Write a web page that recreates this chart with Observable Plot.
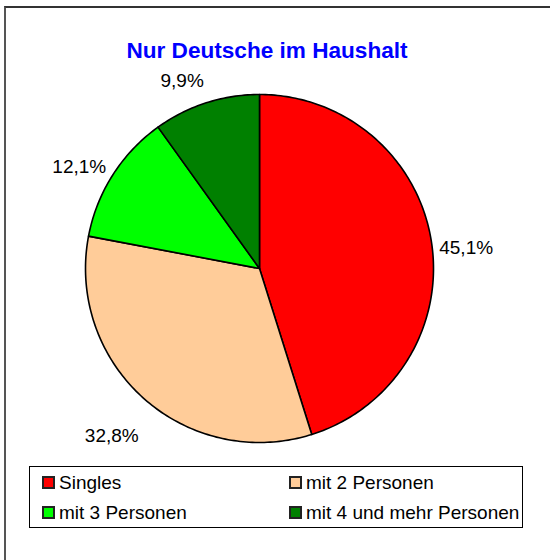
<!DOCTYPE html>
<html>
<head>
<meta charset="utf-8">
<script src="https://cdn.jsdelivr.net/npm/d3@7"></script>
<script src="https://cdn.jsdelivr.net/npm/@observablehq/plot@0.6"></script>
<style>
  body { margin: 0; background: #fff; font-family: "Liberation Sans", Arial, sans-serif; }
  #page { position: relative; width: 550px; height: 560px; overflow: hidden; background: #fff; }
  #frame { position: absolute; left: 4px; top: 6px; width: 620px; height: 620px;
           border-left: 2px solid #555; border-top: 2px solid #333; }
  #title { position: absolute; left: 0; top: 40px; width: 534px; text-align: center;
           font-weight: bold; font-size: 22.6px; line-height: 22px; color: #0000FF; }
  #chart { position: absolute; left: 0; top: 60px; }
  #legend { position: absolute; left: 29px; top: 466px; width: 492px; height: 60px;
            border: 1px solid #000; box-sizing: content-box; }
  .item { position: absolute; font-size: 19px; line-height: 19px; white-space: nowrap; color: #000; }
  .sw { position: absolute; width: 9px; height: 9px; border: 2px solid #222; }
  .lbl { position: absolute; }
</style>
</head>
<body>
<div id="page">
  <div id="frame"></div>
  <div id="title"></div>
  <div id="chart"></div>
  <div id="legend"></div>
</div>
<script>
const title = "Nur Deutsche im Haushalt";
const categories = ["Singles", "mit 2 Personen", "mit 3 Personen", "mit 4 und mehr Personen"];
const values = [45.1, 32.8, 12.1, 9.9];
const colors = ["#FF0000", "#FFCC99", "#00FF00", "#008000"];

document.getElementById("title").textContent = title;

const data = categories.map((c, i) => ({category: c, value: values[i]}));
const arcs = d3.pie().sort(null).value(d => d.value)(data);
const fmt = v => d3.format(".1f")(v).replace(".", ",") + "%";

const slices = arcs.map(a => {
  const pts = [[0, 0]];
  const n = Math.max(2, Math.ceil((a.endAngle - a.startAngle) / (Math.PI / 180)));
  for (let i = 0; i <= n; i++) {
    const t = a.startAngle + (a.endAngle - a.startAngle) * i / n;
    pts.push([Math.sin(t), -Math.cos(t)]);
  }
  pts.push([0, 0]);
  return {type: "Feature", properties: {category: a.data.category},
          geometry: {type: "Polygon", coordinates: [pts]}};
});

// labels sit just outside the rim, anchored by the side of the pie they fall on
const labelRx = 1.045, labelRy = 1.2;
const labels = arcs.map(a => {
  const m = (a.startAngle + a.endAngle) / 2;
  return {x: labelRx * Math.sin(m), y: -labelRy * Math.cos(m), right: Math.sin(m) >= 0, text: fmt(a.data.value)};
});

const textOpts = {x: "x", y: "y", text: "text", fill: "#000", fontSize: 19, dy: 11, clip: false};

const chart = Plot.plot({
  width: 550,
  height: 400,
  marginLeft: 85,
  marginRight: 117,
  marginTop: 34,
  marginBottom: 18,
  style: {fontFamily: "'Liberation Sans', Arial, sans-serif", fontSize: "19px", background: "transparent", overflow: "visible"},
  projection: {type: "identity", clip: false, domain: {type: "MultiPoint", coordinates: [[-1, -1], [1, 1]]}},
  color: {domain: categories, range: colors},
  marks: [
    Plot.geo(slices, {fill: d => d.properties.category, stroke: "#000", strokeWidth: 1.6}),
    Plot.text(labels.filter(d => d.right), {...textOpts, textAnchor: "start"}),
    Plot.text(labels.filter(d => !d.right), {...textOpts, textAnchor: "end"})
  ]
});
document.getElementById("chart").appendChild(chart);

// legend
const legend = document.getElementById("legend");
const cols = [12, 259];
const rows = [6, 36];
categories.forEach((c, i) => {
  const it = document.createElement("div");
  it.className = "item";
  it.style.left = cols[i % 2] + "px";
  it.style.top = rows[Math.floor(i / 2)] + "px";
  const sw = document.createElement("div");
  sw.className = "sw";
  sw.style.left = "0px";
  sw.style.top = "3px";
  sw.style.background = colors[i];
  const lb = document.createElement("div");
  lb.className = "lbl";
  lb.style.left = "17px";
  lb.style.top = "0px";
  lb.textContent = c;
  it.appendChild(sw);
  it.appendChild(lb);
  legend.appendChild(it);
});
</script>
</body>
</html>
